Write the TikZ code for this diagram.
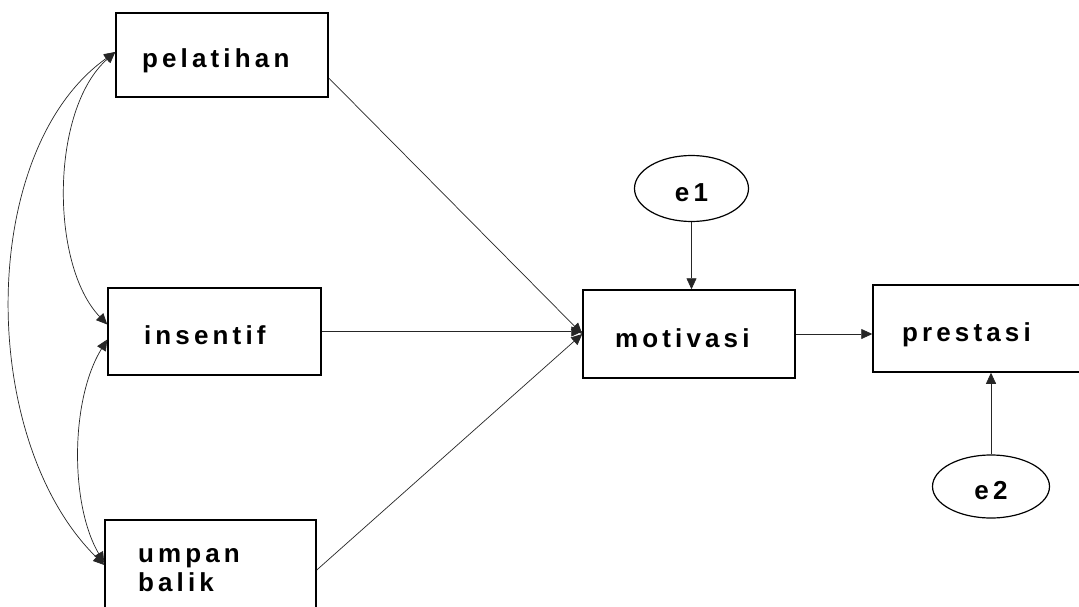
\documentclass[tikz,border=0pt]{standalone}
\usepackage{fontspec}
\newfontfamily\labelfont{Liberation Sans Bold}[LetterSpace=16]
\usetikzlibrary{arrows.meta,shapes.geometric}
\begin{document}
\begin{tikzpicture}[x=1pt,y=-1pt,
  varbox/.style={draw=black, line width=1.5pt, rectangle, inner ysep=0pt,
    inner xsep=30pt, text width=152pt, align=left,
    minimum height=86pt,
    font=\labelfont\fontsize{26}{29}\selectfont},
  lowtext/.style={text height=31pt, text depth=5pt},
  errnode/.style={draw=black, line width=1.2pt, ellipse, inner sep=0pt,
    minimum width=114pt, minimum height=66pt,
    text height=26pt, text depth=0pt,
    font=\labelfont\fontsize{26}{29}\selectfont},
  path/.style={draw=black!85, line width=0.7pt, -{Triangle[length=11pt,width=10pt]}},
  cov/.style={draw=black!85, line width=0.7pt,
    {Triangle[length=11pt,width=10pt]}-{Triangle[length=11pt,width=10pt]}}]
  \useasboundingbox[fill=white] (0,0) rectangle (1079,607);

  % observed variables
  \node[varbox, lowtext, minimum height=84pt, inner xsep=26pt, text width=160pt] (pel) at (222,55) {pelatihan};
  \node[varbox, lowtext, minimum height=87pt, inner xsep=36pt, text width=141pt] (ins) at (214.5,331.5) {insentif};
  \node[varbox, minimum height=100pt, inner xsep=33pt, text width=145pt] (umb) at (210.5,570) {umpan\\balik};
  \node[varbox, lowtext, minimum height=88pt, inner xsep=32pt, text width=148pt] (mot) at (689,334) {motivasi};
  \node[varbox, lowtext, minimum height=87pt, inner xsep=29pt, text width=154pt] (pre) at (979,328.5) {prestasi};

  % error terms
  \node[errnode] (e1) at (691.5,188.5) {e1};
  \node[errnode, minimum width=117pt, minimum height=63pt] (e2) at (991,486.5) {e2};

  % structural paths
  \draw[path] ([yshift=-23pt]pel.east) -- (mot.west);
  \draw[path] (ins.east) -- (ins.east -| mot.west);
  \draw[path] (umb.east) -- (mot.west);
  \draw[path] (mot.east) -- (mot.east -| pre.west);
  \draw[path] (e1.south) -- (e1.south |- mot.north);
  \draw[path] (e2.north) -- (e2.north |- pre.south);

  % covariances between exogenous variables
  \draw[cov] ([yshift=3pt]pel.west) .. controls (50,110) and (50,265) .. ([yshift=7pt]ins.west);
  \draw[cov] ([yshift=3pt]pel.west) .. controls (-23,150) and (-23,440) .. ([yshift=5pt]umb.west);
  \draw[cov] ([yshift=-8pt]ins.west) .. controls (70,400) and (70,505) .. ([yshift=7pt]umb.west);
\end{tikzpicture}
\end{document}
